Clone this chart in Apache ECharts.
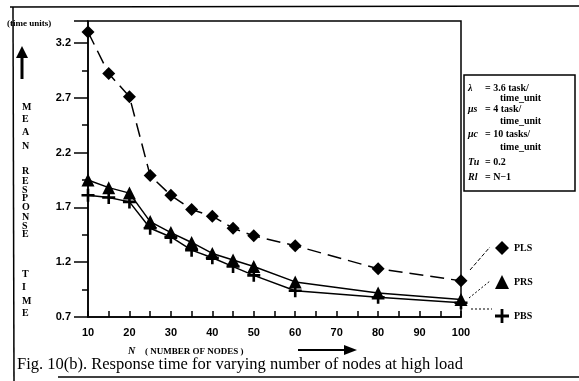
<!DOCTYPE html>
<html>
<head>
<meta charset="utf-8">
<script src="https://cdn.jsdelivr.net/npm/echarts@6/dist/echarts.min.js"></script>
<style>
html, body { margin: 0; padding: 0; background: #fff; }
#chart-panel { width: 579px; height: 381px; }
</style>
</head>
<body>
<div id="chart-panel"></div>
<script>
// N (number of nodes) and mean response time per policy
var nodes = [10, 15, 20, 25, 30, 35, 40, 45, 50, 60, 80, 100];
var pls = [3.30, 2.92, 2.71, 1.99, 1.81, 1.68, 1.62, 1.51, 1.44, 1.35, 1.14, 1.03];
var prs = [1.95, 1.88, 1.83, 1.57, 1.47, 1.38, 1.28, 1.22, 1.16, 1.02, 0.92, 0.86];
var pbs = [1.81, 1.79, 1.75, 1.51, 1.43, 1.31, 1.24, 1.16, 1.08, 0.94, 0.88, 0.83];
var names = ['PLS', 'PRS', 'PBS'];
var paramLines = [
    ['λ', '= 3.6 task/', 'time_unit'],
    ['μs', '= 4 task/', 'time_unit'],
    ['μc', '= 10 tasks/', 'time_unit'],
    ['Tu', '= 0.2', ''],
    ['Rl', '= N−1', '']
];
var yWord = ['M', 'E', 'A', 'N', '', 'R', 'E', 'S', 'P', 'O', 'N', 'S', 'E', '', 'T', 'I', 'M', 'E'];

var plusPath = 'path://M4,0H6V4H10V6H6V10H4V6H0V4H4Z';
var serif = '"Liberation Serif", "DejaVu Serif", serif';

function pairs(vals) {
    return nodes.map(function (n, i) { return [n, vals[i]]; });
}

// vertical "MEAN RESPONSE TIME" letters
var letterY = [108, 120, 133, 147, 0, 172, 182, 191, 199, 208, 218, 227, 235, 0, 275, 288, 302, 314];
var graphics = [];
yWord.forEach(function (ch, i) {
    if (!ch) return;
    graphics.push({
        type: 'text', left: 22, top: letterY[i] - 6,
        style: { text: ch, font: 'bold 10px ' + serif, fill: '#000', align: 'center' }
    });
});

// parameter box
var rowY = [[83, 93], [104, 116], [129, 142], [157], [172]];
paramLines.forEach(function (p, i) {
    graphics.push({
        type: 'text', left: 468, top: rowY[i][0],
        style: { text: p[0], font: 'bold italic 10px ' + serif, fill: '#000' }
    });
    graphics.push({
        type: 'text', left: 485, top: rowY[i][0],
        style: { text: p[1], font: 'bold 10px ' + serif, fill: '#000' }
    });
    if (p[2]) {
        graphics.push({
            type: 'text', left: 500, top: rowY[i][1],
            style: { text: p[2], font: 'bold 10px ' + serif, fill: '#000' }
        });
    }
});

graphics = graphics.concat([
    // outer frame
    { type: 'line', shape: { x1: 10, y1: 7, x2: 579, y2: 6 }, style: { stroke: '#000', lineWidth: 1.5 } },
    { type: 'line', shape: { x1: 13, y1: 7, x2: 14, y2: 381 }, style: { stroke: '#000', lineWidth: 1.5 } },
    { type: 'line', shape: { x1: 58, y1: 377, x2: 579, y2: 377 }, style: { stroke: '#000', lineWidth: 1.5 } },
    // parameter box
    { type: 'rect', shape: { x: 464, y: 75, width: 111, height: 116 }, style: { fill: 'none', stroke: '#000', lineWidth: 1.5 } },
    // y axis title + arrow
    { type: 'text', left: 7, top: 19, style: { text: '(time units)', font: 'bold 9px ' + serif, fill: '#000' } },
    { type: 'line', shape: { x1: 22, y1: 56, x2: 22, y2: 79 }, style: { stroke: '#000', lineWidth: 3 } },
    { type: 'polygon', shape: { points: [[22, 46], [16, 58], [28, 58]] }, style: { fill: '#000' } },
    // x axis title + arrow
    { type: 'text', left: 128, top: 346, style: { text: 'N', font: 'italic bold 10px ' + serif, fill: '#000' } },
    { type: 'text', left: 145, top: 347, style: { text: '( NUMBER OF NODES )', font: 'bold 9px ' + serif, fill: '#000' } },
    { type: 'line', shape: { x1: 298, y1: 350, x2: 346, y2: 350 }, style: { stroke: '#000', lineWidth: 2 } },
    { type: 'polygon', shape: { points: [[357, 350], [344, 345], [344, 355]] }, style: { fill: '#000' } },
    // caption
    { type: 'text', left: 17, top: 356, style: { text: 'Fig. 10(b). Response time for varying number of nodes at high load', font: '16.5px ' + serif, fill: '#000' } },
    // legend leader lines
    { type: 'line', shape: { x1: 470, y1: 270, x2: 490, y2: 247 }, style: { stroke: '#000', lineWidth: 1, lineDash: [4, 2] } },
    { type: 'line', shape: { x1: 469, y1: 298, x2: 490, y2: 281 }, style: { stroke: '#000', lineWidth: 1, lineDash: [2, 2] } },
    { type: 'line', shape: { x1: 471, y1: 309, x2: 492, y2: 309 }, style: { stroke: '#000', lineWidth: 1, lineDash: [2, 2] } }
]);

var option = {
    backgroundColor: '#fff',
    animation: false,
    grid: {
        left: 88, right: 118, top: 21, bottom: 64,
        show: true, borderColor: '#000', borderWidth: 1.5
    },
    legend: {
        orient: 'vertical',
        left: 490, top: 236,
        itemWidth: 14, itemHeight: 14, itemGap: 20,
        textStyle: { color: '#000', fontFamily: serif, fontWeight: 'bold', fontSize: 10 },
        data: [
            { name: 'PLS', icon: 'diamond' },
            { name: 'PRS', icon: 'triangle' },
            { name: 'PBS', icon: plusPath }
        ]
    },
    xAxis: {
        type: 'value', min: 10, max: 100, interval: 10,
        axisLine: { lineStyle: { color: '#000', width: 1.5 } },
        axisTick: { inside: true, length: 6, lineStyle: { color: '#000', width: 1.5 } },
        minorTick: { show: true, splitNumber: 2, length: 6, lineStyle: { color: '#000', width: 1.5 } },
        splitLine: { show: false },
        axisLabel: { color: '#000', fontFamily: 'Liberation Sans, Arial, sans-serif', fontWeight: 'bold', fontSize: 11, margin: 10 }
    },
    yAxis: {
        type: 'value', min: 0.7, max: 3.4, interval: 0.5,
        axisLine: { show: true, lineStyle: { color: '#000', width: 1.5 } },
        axisTick: { length: 14, lineStyle: { color: '#000', width: 1.5 } },
        minorTick: { show: true, splitNumber: 2, length: 6, lineStyle: { color: '#000', width: 1.5 } },
        splitLine: { show: false },
        axisLabel: {
            color: '#000', fontFamily: 'Liberation Sans, Arial, sans-serif', fontWeight: 'bold', fontSize: 11, margin: 17,
            showMaxLabel: false,
            formatter: function (v) { return v.toFixed(1); }
        }
    },
    series: [{
        name: 'PLS', type: 'line', data: pairs(pls),
        symbol: 'diamond', symbolSize: 13,
        itemStyle: { color: '#000' },
        lineStyle: { color: '#000', width: 1.5, type: [14, 7] }
    }, {
        name: 'PRS', type: 'line', data: pairs(prs),
        symbol: 'triangle', symbolSize: 13,
        itemStyle: { color: '#000' },
        lineStyle: { color: '#000', width: 1.5 }
    }, {
        name: 'PBS', type: 'line', data: pairs(pbs),
        symbol: plusPath, symbolSize: 13,
        itemStyle: { color: '#000' },
        lineStyle: { color: '#000', width: 1.5 }
    }],
    graphic: graphics
};

var myChart = echarts.init(document.getElementById('chart-panel'));
myChart.setOption(option);
</script>
</body>
</html>
